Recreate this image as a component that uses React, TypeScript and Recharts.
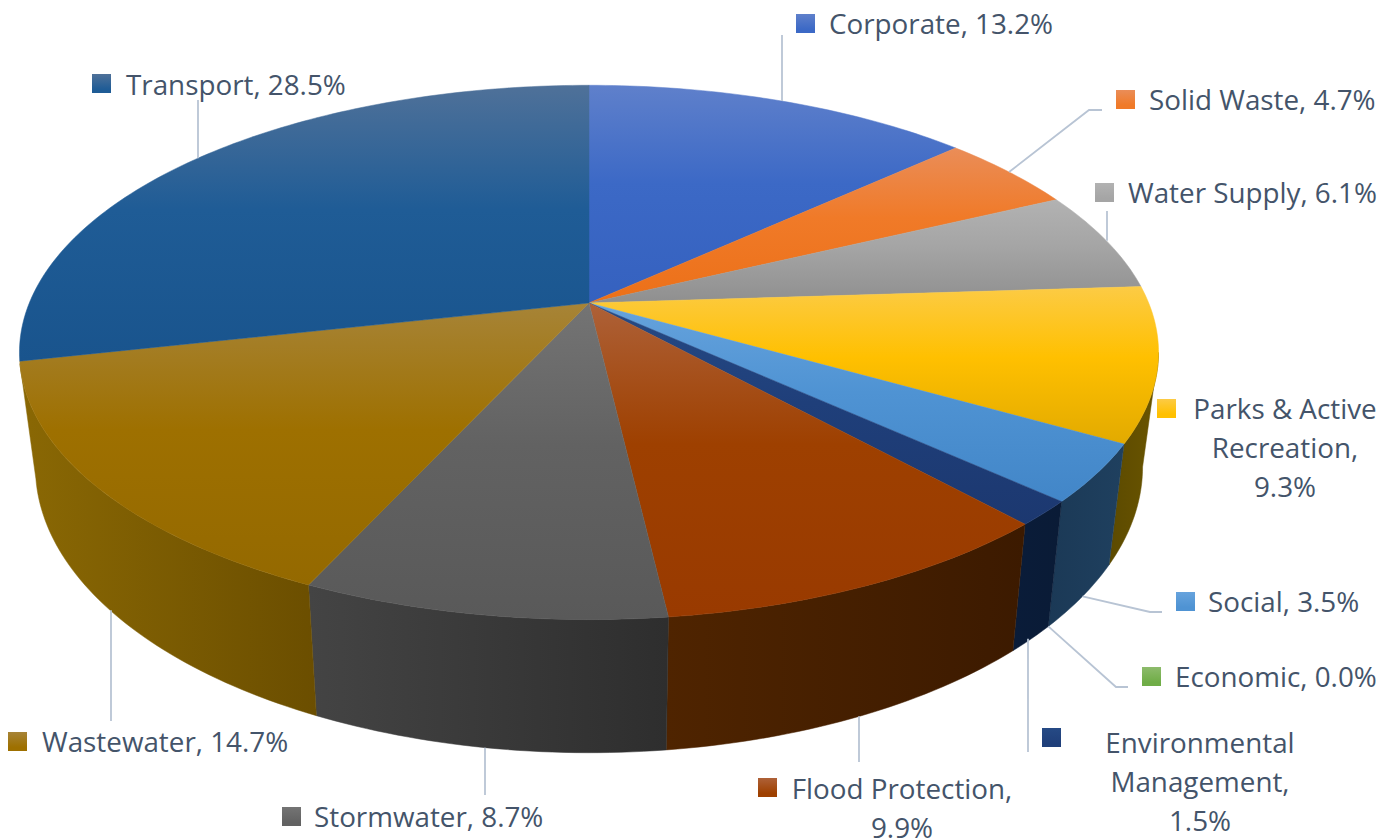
// 3D-look pie of budget share by service. Recharts Pie with custom sector shapes for the tilt.
import { PieChart, Pie } from 'recharts'

const categories = [
  'Corporate', 'Solid Waste', 'Water Supply', 'Parks & Active Recreation', 'Social', 'Economic',
  'Environmental Management', 'Flood Protection', 'Stormwater', 'Wastewater', 'Transport',
]
const shares = [13.2, 4.7, 6.1, 9.3, 3.5, 0.0, 1.5, 9.9, 8.7, 14.7, 28.5]

// top surface: highlight, base, shade
const topColors = [
  ['#5F80CB', '#3C69C6', '#3561BF'],
  ['#EA8D58', '#F07A28', '#EC7018'],
  ['#B2B2B2', '#A5A5A5', '#8F8F8F'],
  ['#FCCB45', '#FFC000', '#E2AA00'],
  ['#66A3DD', '#4F93D3', '#4286C8'],
  ['#8DBB6C', '#70AD47', '#65A33D'],
  ['#264A85', '#1F3F7A', '#1C3870'],
  ['#AE6138', '#9E4000', '#993A00'],
  ['#747474', '#626262', '#595959'],
  ['#A78437', '#9E7000', '#946900'],
  ['#4F7199', '#1F5C96', '#19548D'],
]
// side wall: left edge to right edge
const wallColors = [
  ['#24407A', '#24407A'],
  ['#8A4812', '#8A4812'],
  ['#606060', '#606060'],
  ['#5C4A00', '#6A5500'],
  ['#1B3956', '#1F405F'],
  ['#41662A', '#41662A'],
  ['#0A1C39', '#0A1B36'],
  ['#4F2400', '#3C1A00'],
  ['#444444', '#2E2E2E'],
  ['#8A6804', '#6B4E00'],
  ['#1A4A78', '#1A4A78'],
]

// swatch corner, text x, first baseline, wrapped lines
const labelSpots = [
  { sx: 796, sy: 14, tx: 829, ty: 34, lines: ['Corporate, 13.2%'] },
  { sx: 1116, sy: 90, tx: 1149, ty: 110, lines: ['Solid Waste, 4.7%'] },
  { sx: 1095, sy: 183, tx: 1128, ty: 203, lines: ['Water Supply, 6.1%'] },
  { sx: 1157, sy: 399, tx: 1285, ty: 419, lines: ['Parks & Active', 'Recreation,', '9.3%'], mid: true },
  { sx: 1176, sy: 592, tx: 1208, ty: 612, lines: ['Social, 3.5%'] },
  { sx: 1142, sy: 667, tx: 1175, ty: 687, lines: ['Economic, 0.0%'] },
  { sx: 1042, sy: 728, tx: 1200, ty: 753, lines: ['Environmental', 'Management,', '1.5%'], mid: true },
  { sx: 758, sy: 778, tx: 902, ty: 799, lines: ['Flood Protection,', '9.9%'], mid: true },
  { sx: 282, sy: 807, tx: 314, ty: 827, lines: ['Stormwater, 8.7%'] },
  { sx: 8, sy: 732, tx: 42, ty: 752, lines: ['Wastewater, 14.7%'] },
  { sx: 92, sy: 74, tx: 126, ty: 95, lines: ['Transport, 28.5%'] },
]
// where each leader runs after leaving the pie; plumb = drawn straight up or down
const leaderRoutes: { to: number[][]; plumb?: boolean }[] = [
  { to: [[782, 35]], plumb: true },
  { to: [[1089, 110], [1102, 110]] },
  { to: [[1107, 211]], plumb: true },
  { to: [] },
  { to: [[1150, 612], [1162, 612]] },
  { to: [[1116, 687], [1128, 687]] },
  { to: [[1028, 752]], plumb: true },
  { to: [[859, 762]], plumb: true },
  { to: [[485, 795]], plumb: true },
  { to: [[111, 721]], plumb: true },
  { to: [[198, 100]], plumb: true },
]

const pieData = categories.map((name, i) => ({ name, value: shares[i], index: i }))

const CX = 589
const CY = 303
const TEXT = '#44546A'
const LEADER = '#B8C4D4'

// perspective tilt: far edge shrinks, near edge grows
const A = 559.7
const B = 258
const K = 0.185
const WALL_FROM = 100.66
const WALL_TO = 257

function topPoint(theta: number) {
  const r = (theta * Math.PI) / 180
  const w = 1 + K * Math.cos(r)
  return [CX + (A * Math.sin(r)) / w, CY - (B * Math.cos(r)) / w]
}
function bottomPoint(theta: number) {
  const [x, y] = topPoint(theta)
  return [CX + (x - CX) * 0.972, CY + (y - CY) * 1.07 + 111]
}
function arc(from: number, to: number, at: (t: number) => number[]) {
  const pts = []
  const n = Math.max(2, Math.ceil(Math.abs(to - from)))
  for (let i = 0; i <= n; i++) pts.push(at(from + ((to - from) * i) / n))
  return pts
}
const toPath = (pts: number[][]) => pts.map((p) => `${p[0].toFixed(2)},${p[1].toFixed(2)}`).join(' L')

function TopSlice(props: any) {
  const { startAngle, endAngle, payload } = props
  const i = payload.index
  if (startAngle === endAngle) return null
  const d = `M${CX},${CY} L${toPath(arc(90 - startAngle, 90 - endAngle, topPoint))} Z`
  const c = topColors[i]
  return (
    <g>
      <defs>
        <linearGradient id={`top-${i}`} x1="0" y1="0" x2="0" y2="1">
          <stop offset="0" stopColor={c[0]} />
          <stop offset="0.45" stopColor={c[1]} />
          <stop offset="1" stopColor={c[2]} />
        </linearGradient>
      </defs>
      <path d={d} fill={`url(#top-${i})`} stroke={`url(#top-${i})`} strokeWidth={0.5} />
    </g>
  )
}

function WallSlice(props: any) {
  const { startAngle, endAngle, payload } = props
  const i = payload.index
  const from = Math.max(90 - startAngle, WALL_FROM)
  const to = Math.min(90 - endAngle, WALL_TO)
  if (to <= from) return null
  const upper = arc(from, to, topPoint)
  const lower = arc(to, from, bottomPoint)
  const c = wallColors[i]
  return (
    <g>
      <defs>
        <linearGradient id={`wall-${i}`} x1="0" y1="0" x2="1" y2="0">
          <stop offset="0" stopColor={c[0]} />
          <stop offset="1" stopColor={c[1]} />
        </linearGradient>
      </defs>
      <path d={`M${toPath(upper)} L${toPath(lower)} Z`} fill={`url(#wall-${i})`} stroke={`url(#wall-${i})`} strokeWidth={0.5} />
    </g>
  )
}

function Leader(props: any) {
  const { index, midAngle } = props
  const route = leaderRoutes[index]
  if (route.to.length === 0) return <g />
  const theta = 90 - midAngle
  const front = theta > WALL_FROM && theta < WALL_TO
  const from = front ? bottomPoint(theta) : topPoint(theta)
  const start = route.plumb ? [route.to[0][0], from[1]] : from
  return <path d={`M${toPath([start, ...route.to])}`} fill="none" stroke={LEADER} strokeWidth={1.8} />
}

function SliceLabel(props: any) {
  const { index } = props
  const spot = labelSpots[index]
  const c = topColors[index]
  return (
    <g>
      <defs>
        <linearGradient id={`swatch-${index}`} x1="0" y1="0" x2="0" y2="1">
          <stop offset="0" stopColor={c[0]} />
          <stop offset="0.8" stopColor={c[1]} />
        </linearGradient>
      </defs>
      <rect x={spot.sx} y={spot.sy} width={19} height={19} fill={`url(#swatch-${index})`} />
      <text
        x={spot.tx}
        y={spot.ty}
        fill={TEXT}
        fontSize={27.8}
        fontFamily="'Open Sans', sans-serif"
        textAnchor={spot.mid ? 'middle' : 'start'}
      >
        {spot.lines.map((line, k) => (
          <tspan key={line} x={spot.tx} y={spot.ty + k * 39}>{line}</tspan>
        ))}
      </text>
    </g>
  )
}

export default function App() {
  return (
    <div style={{ width: 1400, height: 840, background: '#fff', overflow: 'hidden' }}>
      <style>{'html,body{margin:0;padding:0}'}</style>
      <PieChart width={1400} height={840} margin={{ top: 0, right: 0, bottom: 0, left: 0 }}>
        <Pie
          data={pieData}
          dataKey="value"
          nameKey="name"
          cx={CX}
          cy={CY}
          outerRadius={260}
          startAngle={90}
          endAngle={-270}
          shape={WallSlice}
          label={false}
          labelLine={false}
          isAnimationActive={false}
        />
        <Pie
          data={pieData}
          dataKey="value"
          nameKey="name"
          cx={CX}
          cy={CY}
          outerRadius={260}
          startAngle={90}
          endAngle={-270}
          shape={TopSlice}
          label={SliceLabel}
          labelLine={Leader}
          isAnimationActive={false}
        />
      </PieChart>
    </div>
  )
}
